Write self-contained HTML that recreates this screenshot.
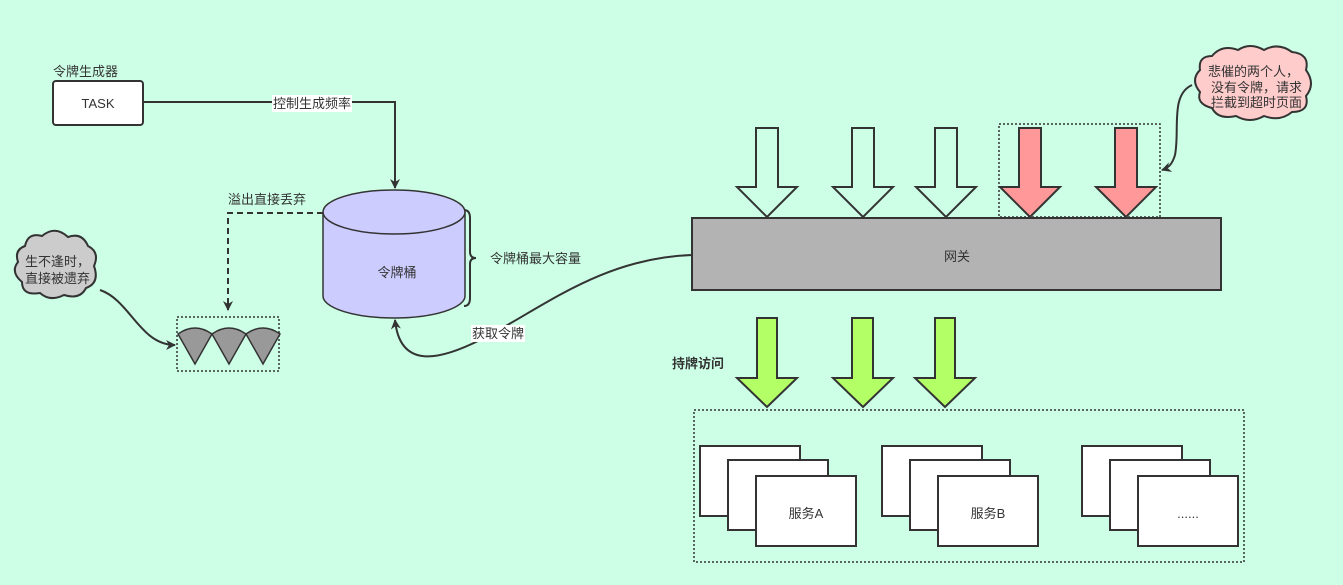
<!DOCTYPE html>
<html><head><meta charset="utf-8"><style>
body{margin:0;background:#ccffe6;}
svg{display:block;font-family:"Liberation Sans","Noto Sans CJK SC",sans-serif;}
</style></head><body>
<svg width="1343" height="585" viewBox="0 0 1343 585" xmlns="http://www.w3.org/2000/svg">
<defs>
<marker id="ah" markerWidth="10" markerHeight="10" refX="9" refY="5" orient="auto" markerUnits="userSpaceOnUse"><path d="M0,0 L10,5 L0,10 L3,5 Z" fill="#333"/></marker>
</defs>
<rect width="1343" height="585" fill="#ccffe6"/>
<g font-size="13" fill="#333">
<text x="53" y="76">令牌生成器</text>
<rect x="53" y="81" width="90" height="44" rx="3" fill="#fff" stroke="#333" stroke-width="2"/>
<text x="98" y="108" text-anchor="middle">TASK</text>
<path d="M143,102 H395 V188" fill="none" stroke="#333" stroke-width="2" marker-end="url(#ah)"/>
<rect x="272" y="95" width="80" height="17" fill="#fff"/>
<text x="273" y="108">控制生成频率</text>
<path d="M323,212 V296 A71,22 0 0 0 465,296 V212" fill="#ccccff" stroke="#333" stroke-width="1.5"/>
<ellipse cx="394" cy="212" rx="71" ry="22" fill="#ccccff" stroke="#333" stroke-width="1.5"/>
<text x="397" y="277" text-anchor="middle">令牌桶</text>
<path d="M464,210 Q470,210 470,218 V252 Q470,258 476,258 Q470,258 470,264 V298 Q470,306 464,306" fill="none" stroke="#333" stroke-width="2"/>
<text x="490" y="263">令牌桶最大容量</text>
<path d="M323,213 H228 V310" fill="none" stroke="#333" stroke-width="2" stroke-dasharray="6,4" marker-end="url(#ah)"/>
<text x="228" y="204">溢出直接丢弃</text>
<rect x="177" y="317" width="102" height="54" fill="none" stroke="#333" stroke-width="1.5" stroke-dasharray="2,2"/>
<g fill="#999" stroke="#333" stroke-width="1.5">
<path d="M178,334 Q195,322 212,334 L195,364 Z"/>
<path d="M212,334 Q229,322 246,334 L229,364 Z"/>
<path d="M246,334 Q263,322 280,334 L263,364 Z"/>
</g>
<path d="M25,246 Q28,232 42,236 Q55,225 68,237 Q82,232 88,246 Q100,252 94,266 Q100,283 86,288 Q80,300 64,295 Q50,302 40,293 Q22,296 22,282 Q10,272 18,262 Q14,250 25,246 Z" fill="#ccc" stroke="#333" stroke-width="2"/>
<text x="25" y="266">生不逢时，</text>
<text x="25" y="283">直接被遗弃</text>
<path d="M100,290 C130,300 140,345 175,345" fill="none" stroke="#333" stroke-width="2" marker-end="url(#ah)"/>
<path d="M692,255 C600,258 540,310 480,340 C440,360 400,370 395,320" fill="none" stroke="#333" stroke-width="2" marker-end="url(#ah)"/>
<rect x="471" y="325" width="54" height="17" fill="#fff"/>
<text x="472" y="338">获取令牌</text>
<rect x="692" y="218" width="529" height="72" fill="#b3b3b3" stroke="#333" stroke-width="2"/>
<text x="957" y="261" text-anchor="middle">网关</text>
<g stroke="#333" stroke-width="2">
<path d="M756,128 H778 V187 H797 L767,217 L737,187 H756 Z" fill="#ccffe6"/>
<path d="M852,128 H874 V187 H893 L863,217 L833,187 H852 Z" fill="#ccffe6"/>
<path d="M935,128 H957 V187 H976 L946,217 L916,187 H935 Z" fill="#ccffe6"/>
<path d="M1019,128 H1041 V187 H1060 L1030,217 L1000,187 H1019 Z" fill="#ff9999"/>
<path d="M1115,128 H1137 V187 H1156 L1126,217 L1096,187 H1115 Z" fill="#ff9999"/>
</g>
<rect x="999" y="124" width="161" height="93" fill="none" stroke="#333" stroke-width="1.5" stroke-dasharray="2,2"/>
<path d="M1200,70 Q1198,56 1212,56 Q1222,44 1238,50 Q1250,42 1264,50 Q1278,42 1292,52 Q1310,54 1306,70 Q1316,84 1306,96 Q1310,112 1292,112 Q1280,122 1264,116 Q1250,124 1236,116 Q1218,120 1212,108 Q1196,104 1200,92 Q1190,80 1200,70 Z" fill="#ffcccc" stroke="#333" stroke-width="2"/>
<text x="1208" y="76">悲催的两个人，</text>
<text x="1211" y="92">没有令牌，请求</text>
<text x="1211" y="107">拦截到超时页面</text>
<path d="M1192,85 C1170,95 1180,130 1175,155 C1172,165 1168,168 1162,170" fill="none" stroke="#333" stroke-width="2" marker-end="url(#ah)"/>
<g stroke="#333" stroke-width="2" fill="#b3ff66">
<path d="M757,318 H777 V378 H797 L767,407 L737,378 H757 Z"/>
<path d="M852,318 H873 V378 H893 L863,407 L833,378 H852 Z"/>
<path d="M935,318 H955 V378 H975 L945,407 L915,378 H935 Z"/>
</g>
<text x="672" y="368" font-weight="bold">持牌访问</text>
<rect x="694" y="410" width="550" height="152" fill="none" stroke="#333" stroke-width="1.5" stroke-dasharray="2,2"/>
<g fill="#fff" stroke="#333" stroke-width="2">
<rect x="700" y="446" width="100" height="70"/><rect x="728" y="460" width="100" height="70"/><rect x="756" y="476" width="100" height="70"/>
<rect x="882" y="446" width="100" height="70"/><rect x="910" y="460" width="100" height="70"/><rect x="938" y="476" width="100" height="70"/>
<rect x="1082" y="446" width="100" height="70"/><rect x="1110" y="460" width="100" height="70"/><rect x="1138" y="476" width="100" height="70"/>
</g>
<text x="806" y="518" text-anchor="middle">服务A</text>
<text x="988" y="518" text-anchor="middle">服务B</text>
<text x="1188" y="518" text-anchor="middle">......</text>
</g>
</svg>
</body></html>
